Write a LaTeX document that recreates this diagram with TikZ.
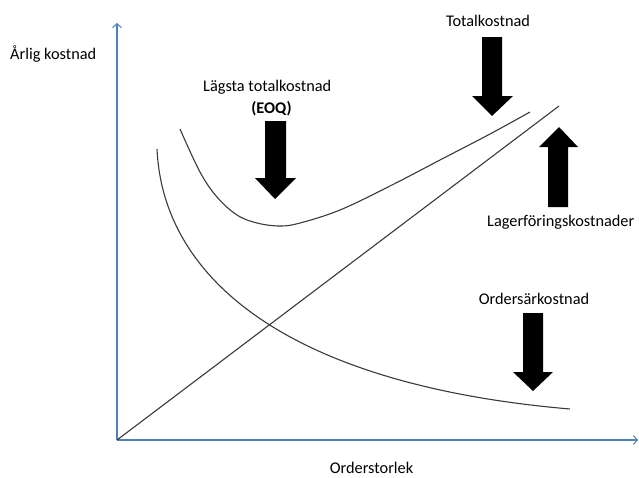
\documentclass[tikz,border=0pt]{standalone}
\usepackage{fontspec}
\setmainfont{Carlito}
\usetikzlibrary{arrows.meta}
\definecolor{axisblue}{HTML}{4F81BD}
\definecolor{curvegray}{HTML}{3A3A3A}
\tikzset{
  axisline/.style={draw=axisblue, line width=1.1pt, -{Straight Barb[length=4pt,width=9pt,line width=1pt]}},
  costcurve/.style={draw=curvegray, line width=1.1pt},
  blockarrow/.style={fill=black},
  lbl/.style={font=\fontsize{16.3}{19}\selectfont, text=black, inner sep=0pt},
}
\begin{document}
\begin{tikzpicture}[x=1pt, y=-1pt]
\useasboundingbox (0,0) rectangle (639,477);
\fill[white] (0,0) rectangle (639,477);

% axes
\coordinate (O) at (117,440);
\coordinate (ytop) at (117,23);
\coordinate (xend) at (638,440);
\draw[axisline] (O) -- (ytop);
\draw[axisline] (O) -- (xend);

% holding cost: straight line
\coordinate (hold) at (559,106);
\draw[costcurve] (O) -- (hold);

% ordering cost
\coordinate (ordA) at (157,149);
\coordinate (ordB) at (570,409);
\draw[costcurve] (ordA) .. controls (163,280) and (290,385) .. (ordB);

% total cost
\draw[costcurve] plot[smooth, tension=0.6] coordinates {
  (180,129) (200,172) (217,197) (237,215) (257,223) (280,226) (300,223)
  (340,210) (390,186) (440,160) (490,134) (530,112)};

% block arrows
\fill[blockarrow] (482,37) -- (502,37) -- (502,96) -- (513,96) -- (492,116)
  -- (472,96) -- (482,96) -- cycle;
\fill[blockarrow] (265,121) -- (286,121) -- (286,178) -- (296,178) -- (275,199)
  -- (255,178) -- (265,178) -- cycle;
\fill[blockarrow] (548,207) -- (568,207) -- (568,147) -- (578,147) -- (559,127)
  -- (539,147) -- (548,147) -- cycle;
\fill[blockarrow] (523,313) -- (543,313) -- (543,372) -- (553,372) -- (533,391)
  -- (513,372) -- (523,372) -- cycle;

% labels
\node[lbl, anchor=base west] (ylab) at (10,59) {Årlig kostnad};
\node[lbl, anchor=base west] (eoq1) at (203,91) {Lägsta totalkostnad};
\node[lbl, anchor=base, font=\fontsize{16.3}{19}\selectfont\bfseries] (eoq2) at (271.5,113) {(EOQ)};
\node[lbl, anchor=base] (tot) at (488,26) {Totalkostnad};
\node[lbl, anchor=base west] (lager) at (487,226) {Lagerföringskostnader};
\node[lbl, anchor=base] (order) at (534,304) {Ordersärkostnad};
\node[lbl, anchor=base] (xlab) at (371.5,473) {Orderstorlek};
\end{tikzpicture}
\end{document}
